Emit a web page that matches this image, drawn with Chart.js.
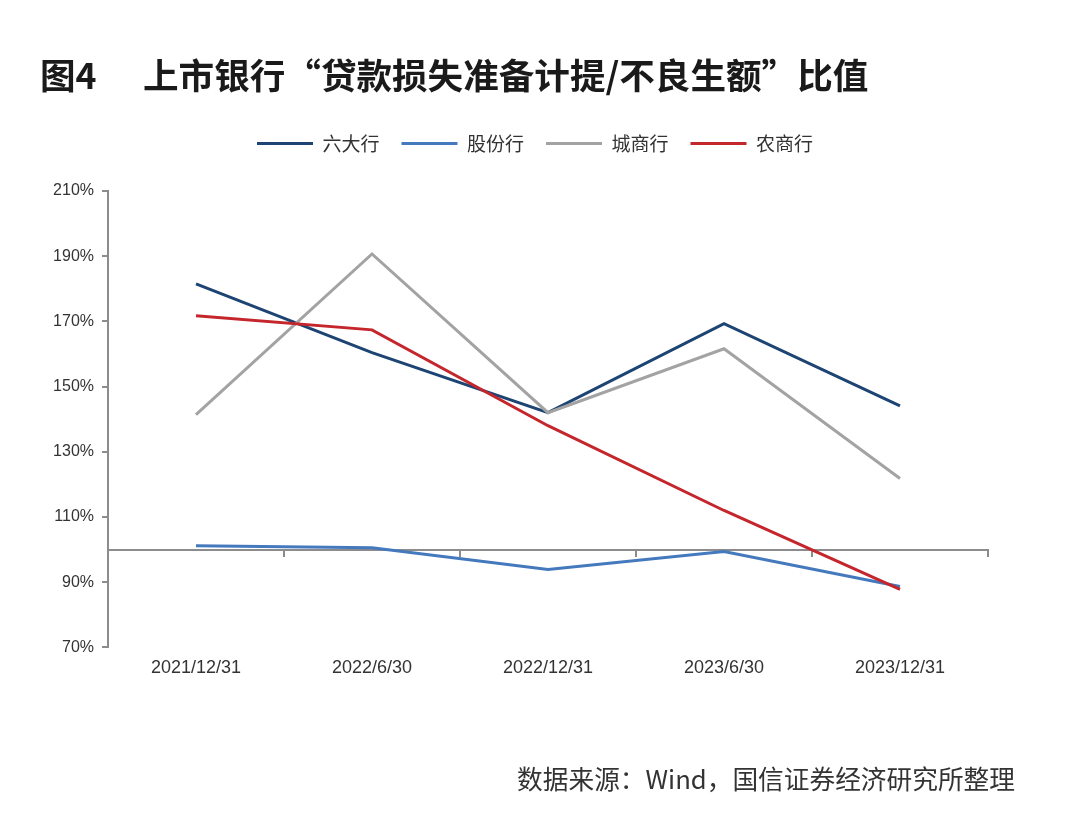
<!DOCTYPE html>
<html>
<head>
<meta charset="utf-8">
<script src="https://cdn.jsdelivr.net/npm/chart.js@4"></script>
<style>
    html, body { margin: 0; padding: 0; background: #fff; }
    #wrap { position: relative; width: 1086px; height: 840px; }
    #chart { position: absolute; left: 0; top: 0; }
    .title { position: absolute; top: 48px; font: bold 35.6px "Noto Sans CJK SC"; color: #1a1a1a; white-space: nowrap; }
    #source { position: absolute; right: 71px; top: 759px; font: 25.7px "Noto Sans CJK SC"; color: #333; white-space: nowrap; }
</style>
</head>
<body>
<div id="wrap">
    <canvas id="chart" width="1086" height="840"></canvas>
    <div class="title" style="left:40px">图4</div>
    <div class="title" style="left:143px">上市银行“贷款损失准备计提/不良生额”比值</div>
    <div id="source">数据来源：Wind，国信证券经济研究所整理</div>
</div>
<script>
'use strict';

/* global Chart */

const categories = ['2021/12/31', '2022/6/30', '2022/12/31', '2023/6/30', '2023/12/31'];
const seriesNames = ['六大行', '股份行', '城商行', '农商行'];
const bigSix = [181.5, 160.4, 142.0, 169.3, 144.1];
const jointStock = [101.2, 100.6, 93.9, 99.4, 88.7];
const cityBanks = [141.4, 190.7, 142.0, 161.6, 121.8];
const ruralBanks = [171.7, 167.4, 138.0, 112.0, 87.8];
const yMin = 70;
const yMax = 210;
const yStep = 20;
const baseValue = 100;

const colors = ['#1d4473', '#4479bd', '#a3a3a3', '#c4262c'];
const axisColor = '#8c8c8c';
const tickFont = {family: '"Liberation Sans", Arial, sans-serif', size: 16};
const xTickFont = {family: '"Liberation Sans", Arial, sans-serif', size: 18};

let seriesValues = [bigSix, jointStock, cityBanks, ruralBanks];

let datasets = seriesNames.map((name, i) => {
    return {
        label: name,
        data: seriesValues[i],
        borderColor: colors[i],
        backgroundColor: colors[i],
        borderWidth: 3,
        pointRadius: 0,
        tension: 0,
        // later series on top, like the original
        order: seriesNames.length - i,
    };
});

// more room under the legend, and nudge it right a bit
let legendSpacing = {
    id: 'legendSpacing',
    beforeLayout: function(chart) {
        let legend = chart.legend;
        if (!legend || legend._patched) {
            return;
        }
        let fit = legend.fit;
        legend.fit = function() {
            fit.call(this);
            this.height += 28;
        };
        legend._patched = true;
    },
    afterLayout: function(chart) {
        chart.legend.left += 41;
        chart.legend.right += 41;
    },
};

new Chart(document.getElementById('chart'), {
    type: 'line',
    data: {labels: categories, datasets: datasets},
    plugins: [legendSpacing],
    options: {
        responsive: false,
        animation: false,
        layout: {padding: {top: 112, left: 0, right: 98, bottom: 151}},
        plugins: {
            tooltip: {enabled: false},
            legend: {
                position: 'top',
                labels: {
                    usePointStyle: true,
                    pointStyle: 'line',
                    pointStyleWidth: 56,
                    padding: 22,
                    color: '#333',
                    font: {family: '"Noto Sans CJK SC"', size: 19},
                    sort: (a, b) => a.datasetIndex - b.datasetIndex,
                },
            },
        },
        scales: {
            x: {
                type: 'category',
                position: 'bottom',
                offset: true,
                grid: {display: false, drawTicks: false},
                border: {display: false},
                ticks: {color: '#333', font: xTickFont, padding: 10, maxRotation: 0},
            },
            // axis line crossing at 100%
            x2: {
                type: 'category',
                labels: categories,
                position: {y: baseValue},
                offset: true,
                grid: {offset: true, drawOnChartArea: false, tickLength: 6, color: axisColor, lineWidth: 2},
                border: {color: axisColor, width: 2},
                ticks: {display: false},
            },
            y: {
                min: yMin,
                max: yMax,
                ticks: {
                    stepSize: yStep,
                    color: '#333',
                    font: tickFont,
                    padding: 8,
                    callback: (v) => v + '%',
                },
                grid: {drawOnChartArea: false, tickLength: 6, color: axisColor, lineWidth: 2},
                border: {color: axisColor, width: 2},
                afterFit: (scale) => { scale.width = 108; },
            },
        },
    },
});
</script>
</body>
</html>
